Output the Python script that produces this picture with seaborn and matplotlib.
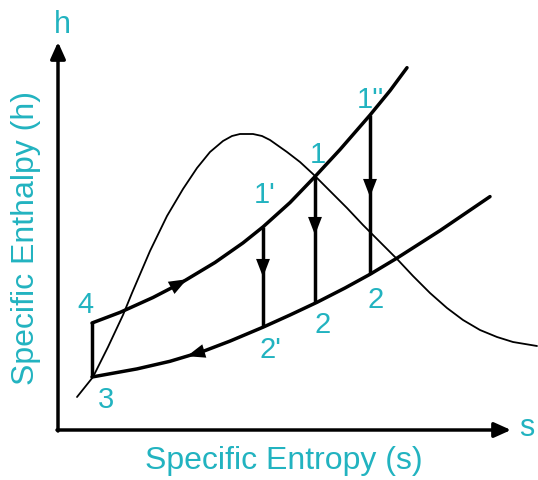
import matplotlib
matplotlib.use("Agg")
import matplotlib.pyplot as plt
import seaborn as sns

sns.set_style("white")
plt.rcParams['font.family'] = ['Liberation Sans', 'DejaVu Sans']

TEAL = '#22b3c0'

# Coordinates are in a schematic (s, h) frame: s rightwards, h upwards (0..538, 0..480)
# Saturation dome (thin curve)
dome_s = [77, 93, 108, 123, 132, 150, 167, 183, 197, 210, 223, 232, 240, 253, 262, 270, 287, 300,
          313, 330, 347, 363, 380, 398, 413, 430, 447, 463, 480, 497, 513, 537]
dome_h = [83, 103, 133, 165, 187, 229, 264, 291, 312, 328, 339, 344, 346, 346, 344, 340, 328, 318,
          306, 289, 272, 255, 238, 220, 204, 187, 172, 160, 150, 143, 138, 134]

# Upper (high-pressure) line 4 -> 1''
hp_s = [92, 120, 153, 180, 215, 243, 263, 290, 315, 340, 370, 390, 407]
hp_h = [157, 167.6, 182.5, 196.5, 217.5, 237.1, 253.1, 277.4, 303.4, 330.4, 364.9, 389.3, 412.3]

# Lower (low-pressure) line 3 -> 2
lp_s = [92, 137, 170, 203, 230, 263, 290, 317, 345, 370, 397, 440, 490]
lp_h = [103, 111.1, 118.7, 128.6, 138.9, 152.8, 165, 177.7, 192, 205.7, 221.9, 249.4, 283.4]

# Vertical lines: (s, h_top, h_bottom) and arrow tip heights
vert_s = [92, 263, 315, 370]
vert_top = [157, 253.1, 303.4, 364.9]
vert_bot = [103, 152.8, 177.7, 205.7]
vert_arrow = [None, 203, 245, 283]

# Point labels
lab_text = ["4", "3", "1'", "1", "1''", "2'", "2", "2"]
lab_s = [85, 106, 265, 318, 370, 270, 323, 376]
lab_h = [175, 80, 285, 325, 380, 130, 155, 180]

fig = plt.figure(figsize=(5.38, 4.80), dpi=100)
ax = fig.add_axes([0, 0, 1, 1])
ax.set_xlim(0, 538)
ax.set_ylim(0, 480)
ax.axis('off')

sns.lineplot(x=dome_s, y=dome_h, sort=False, estimator=None, color='black', lw=1.3, ax=ax)
sns.lineplot(x=hp_s, y=hp_h, sort=False, estimator=None, color='black', lw=2.5, ax=ax)
sns.lineplot(x=lp_s, y=lp_h, sort=False, estimator=None, color='black', lw=2.5, ax=ax)
for ln in ax.lines:
    ln.set_solid_joinstyle('round')
for s, t, b in zip(vert_s, vert_top, vert_bot):
    ax.plot([s, s], [t, b], color='black', lw=2.5, solid_capstyle='butt')

akw = dict(arrowstyle='-|>,head_length=1.3,head_width=0.5', color='black', lw=0,
           shrinkA=0, shrinkB=0)
for s, a in zip(vert_s, vert_arrow):
    if a is not None:
        ax.annotate('', xy=(s, a), xytext=(s, a + 16), arrowprops=akw)
# direction arrows along isobars
ax.annotate('', xy=(187, 200.8), xytext=(172, 192.6), arrowprops=akw)
ax.annotate('', xy=(187, 123.8), xytext=(205, 129.2), arrowprops=akw)

# axes arrows
axkw = dict(arrowstyle='-|>,head_length=1.0,head_width=0.45', color='black', lw=2.5,
            shrinkA=0, shrinkB=0)
ax.annotate('', xy=(58, 438), xytext=(58, 49), arrowprops=axkw)
ax.annotate('', xy=(511, 50), xytext=(57, 50), arrowprops=axkw)

ax.text(62, 455, 'h', color=TEAL, fontsize=22, ha='center', va='center')
ax.text(527, 52, 's', color=TEAL, fontsize=22, ha='center', va='center')
ax.text(284, 19, 'Specific Entropy (s)', color=TEAL, fontsize=23, ha='center', va='center')
ax.text(26, 242, 'Specific Enthalpy (h)', color=TEAL, fontsize=23, ha='center', va='center',
        rotation=90)

for t, s, h in zip(lab_text, lab_s, lab_h):
    ax.text(s, h, t, color=TEAL, fontsize=21, ha='center', va='center')

fig.savefig('out.png', dpi=100)
